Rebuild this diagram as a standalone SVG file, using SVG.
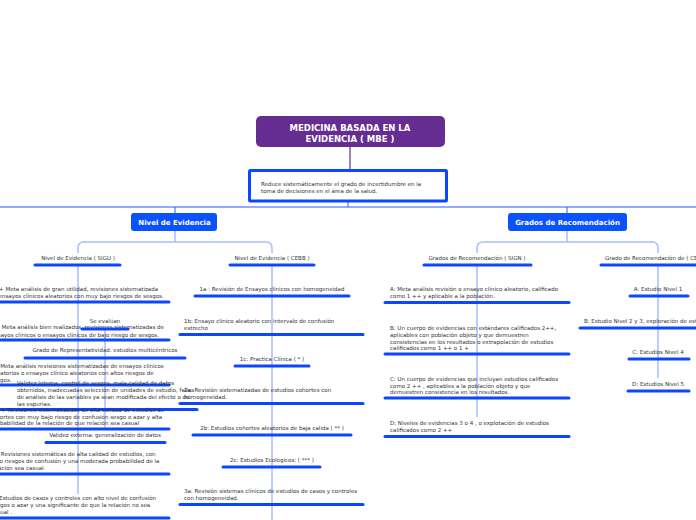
<svg xmlns="http://www.w3.org/2000/svg" width="696" height="520" viewBox="0 0 696 520">
<style>
.t{font-family:"DejaVu Sans",Verdana,sans-serif;font-size:5.5px;fill:#333}
.c{text-anchor:middle}
.u{stroke:#0a47ff;stroke-width:3;stroke-linecap:round;fill:none}
.k{stroke:#a9bdff;stroke-width:1.5;fill:none}
.nb{fill:#0a52ff}
.nt{font-family:"DejaVu Sans",Verdana,sans-serif;font-size:7px;font-weight:bold;fill:#fff;text-anchor:middle}
.rt{font-family:"DejaVu Sans",Verdana,sans-serif;font-size:8.5px;font-weight:bold;fill:#fff;text-anchor:middle}
</style>
<rect width="696" height="520" fill="#fff"/>
<g id="connectors">
<line x1="350" y1="147" x2="350" y2="170" stroke="#662d91" stroke-width="1.2"/>
<line x1="348" y1="201" x2="348" y2="207" stroke="#2a5bff" stroke-width="1"/>
<line x1="0" y1="207" x2="696" y2="207" stroke="#2a5bff" stroke-width="1"/>
<line x1="175" y1="207" x2="175" y2="213" stroke="#2a5bff" stroke-width="1"/>
<line x1="567" y1="207" x2="567" y2="213" stroke="#2a5bff" stroke-width="1"/>
<path class="k" d="M175 231V242M78 253V248Q78 242 84 242H266Q272 242 272 248V253"/>
<path class="k" d="M567 231V242M477 253V248Q477 242 483 242H652Q658 242 658 248V253"/>
<line class="k" x1="78" y1="265" x2="78" y2="494"/>
<line class="k" x1="105" y1="329" x2="105" y2="430"/>
<line class="k" x1="272" y1="265" x2="272" y2="520"/>
<line class="k" x1="477" y1="265" x2="477" y2="417"/>
<line class="k" x1="658" y1="265" x2="658" y2="378"/>
</g>
<g id="root">
<rect x="256" y="116" width="189" height="31" rx="5" fill="#662d91"/>
<text class="rt" x="350" y="131">MEDICINA BASADA EN LA</text>
<text class="rt" x="350" y="142">EVIDENCIA ( MBE )</text>
</g>
<g id="reduce">
<rect x="249.5" y="170.5" width="197" height="30.5" fill="#fff" stroke="#0a47ff" stroke-width="3" rx="1"/>
<text class="t" x="261" y="185.5">Reduce sistemáticamente el grado de incertidumbre en la</text>
<text class="t" x="261" y="193">toma de decisiones en el área de la salud.</text>
</g>
<g id="nivel">
<rect class="nb" x="131" y="213" width="86" height="18" rx="3"/>
<text class="nt" x="174.5" y="224.5">Nivel de Evidencia</text>
</g>
<g id="grados">
<rect class="nb" x="508" y="213" width="119" height="18" rx="3"/>
<text class="nt" x="567.5" y="224.5">Grados de Recomendación</text>
</g>
<g id="sigu">
<text class="t c" x="78" y="260">Nivel de Evidencia ( SIGU )</text>
<line class="u" x1="35" y1="265" x2="120" y2="265"/>
</g>
<g id="s1pp">
<text class="t" x="-9" y="291">1++ Meta análisis de gran utilidad, revisiones sistematizada</text>
<text class="t" x="-10" y="298">de ensayos clínicos aleatorios con muy bajo riesgos de sesgos.</text>
<line class="u" x1="0" y1="302" x2="169" y2="302"/>
</g>
<g id="s1p">
<text class="t" x="-8" y="329">1+ Meta análisis bien realizados, revisiones sistematizadas de</text>
<text class="t" x="-9" y="336.5">ensayos clínicos o ensayos clínicos de bajo riesgo de sesgos.</text>
<line class="u" x1="0" y1="340" x2="169" y2="340"/>
</g>
<g id="evaluan">
<text class="t c" x="105" y="322.5">Se evalúan</text>
<line class="u" x1="82" y1="329" x2="128" y2="329"/>
</g>
<g id="represent">
<text class="t c" x="105" y="352">Grado de Representatividad: estudios multicéntricos</text>
<line class="u" x1="25" y1="358" x2="185" y2="358"/>
</g>
<g id="s1m">
<text class="t" x="-7" y="368">1- Meta análisis revisiones sistematizadas de ensayos clínicos</text>
<text class="t" x="-8" y="375">aleatorios o ensayos clínico aleatorios con altos riesgos de</text>
<text class="t" x="-9" y="381.5">sesgos.</text>
<line class="u" x1="0" y1="385" x2="169" y2="385"/>
</g>
<g id="vinterna">
<text class="t" x="17" y="385">Validez Interna: control de sesgos, mala calidad de datos</text>
<text class="t" x="17" y="392">obtenidos, inadecuadas selección de unidades de estudio, fallas</text>
<text class="t" x="17" y="399">de análisis de las variables ya sean modificada del efecto o de</text>
<text class="t" x="17" y="405.5">las espurias.</text>
<line class="u" x1="0" y1="409.5" x2="197" y2="409.5"/>
</g>
<g id="s2pp">
<text class="t" x="-7" y="411.5">2++ Revisiones sistematizadas de alta calidad de estudios de</text>
<text class="t" x="-10" y="418.5">cohortes con muy bajo riesgo de confusión sesgo o azar y alta</text>
<text class="t" x="-9" y="425">probabilidad de la relación  de que relación sea casual</text>
<line class="u" x1="0" y1="429" x2="169" y2="429"/>
</g>
<g id="vexterna">
<text class="t c" x="105" y="437">Validez externa: generalización de datos</text>
<line class="u" x1="46" y1="442.5" x2="165" y2="442.5"/>
</g>
<g id="s2p">
<text class="t" x="-9" y="456">2+ Revisiones sistemáticas de alta calidad de estudios, con</text>
<text class="t" x="-9" y="463">bajo riesgos de confusión y una moderada probabilidad de la</text>
<text class="t" x="-9" y="469.5">relación sea casual.</text>
<line class="u" x1="0" y1="474" x2="169" y2="474"/>
</g>
<g id="s2m">
<text class="t" x="-8" y="500">2- Estudios de casos y controles con alto nivel de confusión</text>
<text class="t" x="-9" y="507">sesgos o azar y una significante de que la relación no sea</text>
<text class="t" x="-9" y="513.5">casual .</text>
<line class="u" x1="0" y1="518" x2="169" y2="518"/>
</g>
<g id="cebb">
<text class="t c" x="272" y="260">Nivel de Evidencia ( CEBB )</text>
<line class="u" x1="230" y1="265" x2="314" y2="265"/>
</g>
<g id="c1a">
<text class="t c" x="272" y="291">1a : Revisión de Ensayos clínicos con homogeneidad</text>
<line class="u" x1="195" y1="296" x2="349" y2="296"/>
</g>
<g id="c1b">
<text class="t" x="184" y="323">1b: Ensayo clínico aleatorio con intervalo de confusión</text>
<text class="t" x="184" y="330">estrecho</text>
<line class="u" x1="180" y1="334.5" x2="363" y2="334.5"/>
</g>
<g id="c1c">
<text class="t c" x="272" y="360.5">1c: Practica Clínica ( * )</text>
<line class="u" x1="235" y1="366" x2="309" y2="366"/>
</g>
<g id="c2a">
<text class="t" x="184" y="392">2a: Revisión sistematizadas de estudios cohortes con</text>
<text class="t" x="184" y="399">homogeneidad.</text>
<line class="u" x1="180" y1="403.5" x2="363" y2="403.5"/>
</g>
<g id="c2b">
<text class="t c" x="272" y="430">2b: Estudios cohortes aleatorios de baja calida ( ** )</text>
<line class="u" x1="193" y1="435" x2="351" y2="435"/>
</g>
<g id="c2c">
<text class="t c" x="272" y="462">2c: Estudios Ecológicos: ( *** )</text>
<line class="u" x1="223" y1="467" x2="320" y2="467"/>
</g>
<g id="c3a">
<text class="t" x="184" y="493">3a: Revisión sistemas clínicos de estudios de casos y controles</text>
<text class="t" x="184" y="500">con homogeneidad.</text>
<line class="u" x1="180" y1="504.5" x2="363" y2="504.5"/>
</g>
<g id="sign">
<text class="t c" x="477" y="260">Grados de Recomendación ( SIGN )</text>
<line class="u" x1="424" y1="265" x2="531" y2="265"/>
</g>
<g id="ga">
<text class="t" x="390" y="291">A: Meta análisis revisión o ensayo clínico aleatorio, calificado</text>
<text class="t" x="390" y="298">como 1 ++ y aplicable a la población.</text>
<line class="u" x1="385" y1="302.5" x2="569" y2="302.5"/>
</g>
<g id="gb">
<text class="t" x="390" y="330">B: Un cuerpo de evidencias con estándares calificados 2++,</text>
<text class="t" x="390" y="337">aplicables con población objeto y que demuestren</text>
<text class="t" x="390" y="343.5">consistencias en los resultados o extrapolación de estudios</text>
<text class="t" x="390" y="350">calificados como  1 ++ o 1 +</text>
<line class="u" x1="385" y1="354" x2="569" y2="354"/>
</g>
<g id="gc">
<text class="t" x="390" y="381">C: Un cuerpo de evidencias que incluyan estudios calificados</text>
<text class="t" x="390" y="387.5">como 2 ++ , aplicables a la población objeto y que</text>
<text class="t" x="390" y="393.5">demuestren consistencia en los resultados.</text>
<line class="u" x1="385" y1="398" x2="569" y2="398"/>
</g>
<g id="gd">
<text class="t" x="390" y="425">D: Niveles de evidencias 3 o 4 , o explotación de estudios</text>
<text class="t" x="390" y="432">calificados como 2 ++</text>
<line class="u" x1="385" y1="436.5" x2="569" y2="436.5"/>
</g>
<g id="gcebb">
<text class="t" x="605" y="260">Grado de Recomendación de (  CEBB )</text>
<line class="u" x1="601" y1="265" x2="696" y2="265"/>
</g>
<g id="ra">
<text class="t c" x="658" y="291">A: Estudio Nivel 1</text>
<line class="u" x1="630" y1="296" x2="688" y2="296"/>
</g>
<g id="rb">
<text class="t" x="584" y="323">B: Estudio Nivel 2 y 3, exploración de estudios</text>
<line class="u" x1="580" y1="328" x2="696" y2="328"/>
</g>
<g id="rc">
<text class="t c" x="658" y="354">C: Estudios Nivel 4</text>
<line class="u" x1="629" y1="359" x2="689" y2="359"/>
</g>
<g id="rd">
<text class="t c" x="658" y="386">D: Estudios Nivel 5</text>
<line class="u" x1="628" y1="391" x2="689" y2="391"/>
</g>
</svg>
